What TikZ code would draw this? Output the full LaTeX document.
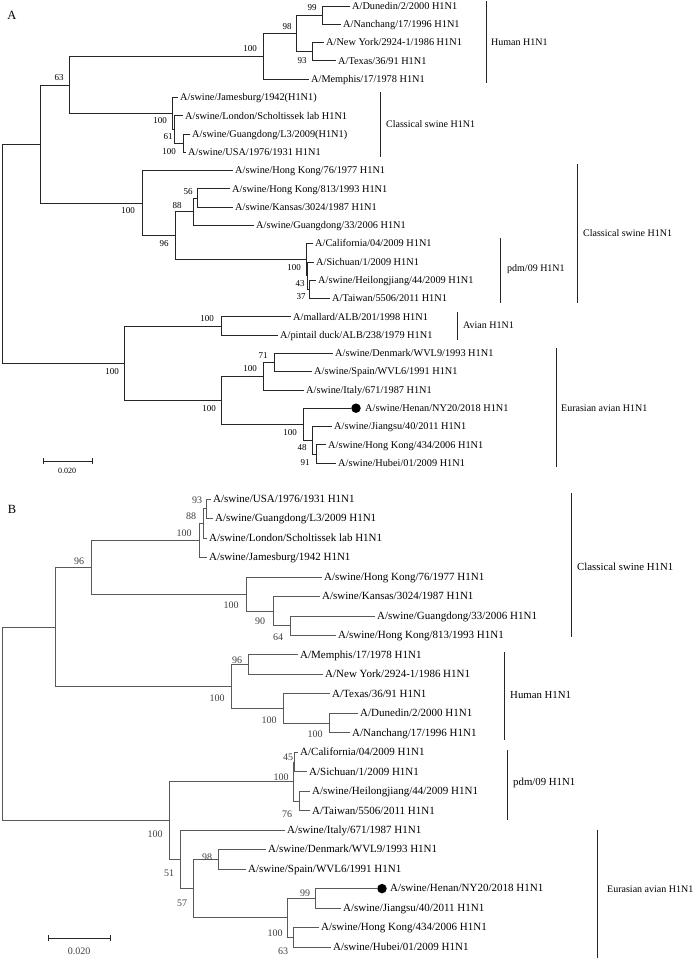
\documentclass[tikz,border=0pt]{standalone}
\usepackage{fontspec}
\setmainfont{Liberation Serif}
\begin{document}
\begin{tikzpicture}[x=1pt,y=-1pt,
  brA/.style={draw=black!85,line width=0.75pt},
  brB/.style={draw=black!65,line width=0.75pt},
  leafA/.style={anchor=west,inner xsep=2pt,inner ysep=0pt,text height=6.6pt,text depth=0pt,font=\fontsize{10.3}{12}\selectfont},
  leafB/.style={anchor=west,inner xsep=2pt,inner ysep=0pt,text height=6.6pt,text depth=0pt,font=\fontsize{11}{13}\selectfont},
  bsA/.style={inner sep=0pt,font=\fontsize{9}{10}\selectfont},
  bsB/.style={inner sep=0pt,text=black!75,font=\fontsize{10}{11}\selectfont},
  bar/.style={draw=black!85,line width=0.8pt},
  cladeA/.style={anchor=west,inner sep=0pt,font=\fontsize{10}{12}\selectfont},
  cladeB/.style={anchor=west,inner sep=0pt,font=\fontsize{10.8}{12}\selectfont},
  dotmark/.style={circle,fill=black,inner sep=0pt,minimum size=9.5pt},
  panel/.style={inner sep=0pt,font=\fontsize{12.5}{14}\selectfont},
]
\useasboundingbox (0,0) rectangle (700,958);
\fill[white] (0,0) rectangle (700,958);

% ================= PANEL A =================
\node[panel] (labA) at (12,15) {A};

% internal nodes A
\coordinate (rootA) at (2,253.5);
\coordinate (n40) at (40,144);
\coordinate (n63) at (69,84.9);
\coordinate (nHum) at (263,56.3);
\coordinate (n98) at (296,33.4);
\coordinate (n99) at (322,15.15);
\coordinate (n93) at (312,51.7);
\coordinate (cs1) at (172,113.4);
\coordinate (cs2) at (174,129.4);
\coordinate (cs3) at (183,143.1);
\coordinate (nCS) at (142,203.1);
\coordinate (n96) at (175,235.7);
\coordinate (n88) at (193,211.7);
\coordinate (n56) at (197,198);
\coordinate (pdmA) at (306,259.6);
\coordinate (pdmB) at (307,275.6);
\coordinate (pdmC) at (309,289.4);
\coordinate (n124) at (124,363);
\coordinate (nAv) at (221,325.9);
\coordinate (nEA) at (221,400.2);
\coordinate (nDSI) at (263,376.2);
\coordinate (n71) at (274,362.5);
\coordinate (nHen) at (303,424.2);
\coordinate (n48) at (312,440.2);
\coordinate (n91) at (316,453.9);

% leaves A
\node[leafA] (aDun) at (350,6.0) {A/Dunedin/2/2000 H1N1};
\node[leafA] (aNan) at (341,24.3) {A/Nanchang/17/1996 H1N1};
\node[leafA] (aNY) at (324,42.6) {A/New York/2924-1/1986 H1N1};
\node[leafA] (aTex) at (336,60.8) {A/Texas/36/91 H1N1};
\node[leafA] (aMem) at (309,79.1) {A/Memphis/17/1978 H1N1};
\node[leafA] (aJam) at (178,97.4) {A/swine/Jamesburg/1942(H1N1)};
\node[leafA] (aLon) at (183,115.7) {A/swine/London/Scholtissek lab H1N1};
\node[leafA] (aL3) at (190,134.0) {A/swine/Guangdong/L3/2009(H1N1)};
\node[leafA] (aUSA) at (186,152.2) {A/swine/USA/1976/1931 H1N1};
\node[leafA] (aHK76) at (233,170.5) {A/swine/Hong Kong/76/1977 H1N1};
\node[leafA] (aHK813) at (230,188.8) {A/swine/Hong Kong/813/1993 H1N1};
\node[leafA] (aKan) at (233,207.1) {A/swine/Kansas/3024/1987 H1N1};
\node[leafA] (aGD33) at (254,225.4) {A/swine/Guangdong/33/2006 H1N1};
\node[leafA] (aCal) at (313,243.6) {A/California/04/2009 H1N1};
\node[leafA] (aSic) at (314,261.9) {A/Sichuan/1/2009 H1N1};
\node[leafA] (aHei) at (316,280.2) {A/swine/Heilongjiang/44/2009 H1N1};
\node[leafA] (aTai) at (330,298.5) {A/Taiwan/5506/2011 H1N1};
\node[leafA] (aMal) at (291,316.8) {A/mallard/ALB/201/1998 H1N1};
\node[leafA] (aPin) at (278,335.0) {A/pintail duck/ALB/238/1979 H1N1};
\node[leafA] (aDen) at (333,353.3) {A/swine/Denmark/WVL9/1993 H1N1};
\node[leafA] (aSpa) at (312,371.6) {A/swine/Spain/WVL6/1991 H1N1};
\node[leafA] (aIta) at (304,389.9) {A/swine/Italy/671/1987 H1N1};
\node[dotmark] (aDot) at (356,408.2) {};
\node[leafA,inner xsep=0pt] (aHen) at (365,408.2) {A/swine/Henan/NY20/2018 H1N1};
\node[leafA] (aJia) at (332,426.4) {A/swine/Jiangsu/40/2011 H1N1};
\node[leafA] (aHK434) at (326,444.7) {A/swine/Hong Kong/434/2006 H1N1};
\node[leafA] (aHub) at (336,463.0) {A/swine/Hubei/01/2009 H1N1};

% branches A
\draw[brA] (rootA) |- (n40);
\draw[brA] (rootA) |- (n124);
\draw[brA] (n40) |- (n63);
\draw[brA] (n40) |- (nCS);
\draw[brA] (n63) |- (nHum);
\draw[brA] (n63) |- (cs1);
\draw[brA] (nHum) |- (n98);
\draw[brA] (nHum) |- (aMem.west);
\draw[brA] (n98) |- (n99);
\draw[brA] (n98) |- (n93);
\draw[brA] (n99) |- (aDun.west);
\draw[brA] (n99) |- (aNan.west);
\draw[brA] (n93) |- (aNY.west);
\draw[brA] (n93) |- (aTex.west);
\draw[brA] (cs1) |- (aJam.west);
\draw[brA] (cs1) |- (cs2);
\draw[brA] (cs2) |- (aLon.west);
\draw[brA] (cs2) |- (cs3);
\draw[brA] (cs3) |- (aL3.west);
\draw[brA] (cs3) |- (aUSA.west);
\draw[brA] (nCS) |- (aHK76.west);
\draw[brA] (nCS) |- (n96);
\draw[brA] (n96) |- (n88);
\draw[brA] (n96) |- (pdmA);
\draw[brA] (n88) |- (n56);
\draw[brA] (n88) |- (aGD33.west);
\draw[brA] (n56) |- (aHK813.west);
\draw[brA] (n56) |- (aKan.west);
\draw[brA] (pdmA) |- (aCal.west);
\draw[brA] (pdmA) |- (pdmB);
\draw[brA] (pdmB) |- (aSic.west);
\draw[brA] (pdmB) |- (pdmC);
\draw[brA] (pdmC) |- (aHei.west);
\draw[brA] (pdmC) |- (aTai.west);
\draw[brA] (n124) |- (nAv);
\draw[brA] (n124) |- (nEA);
\draw[brA] (nAv) |- (aMal.west);
\draw[brA] (nAv) |- (aPin.west);
\draw[brA] (nEA) |- (nDSI);
\draw[brA] (nEA) |- (nHen);
\draw[brA] (nDSI) |- (n71);
\draw[brA] (nDSI) |- (aIta.west);
\draw[brA] (n71) |- (aDen.west);
\draw[brA] (n71) |- (aSpa.west);
\draw[brA] (nHen) |- (aDot.west);
\draw[brA] (nHen) |- (n48);
\draw[brA] (n48) |- (aJia.west);
\draw[brA] (n48) |- (n91);
\draw[brA] (n91) |- (aHK434.west);
\draw[brA] (n91) |- (aHub.west);

% bootstrap A
\node[bsA] (bA1) at (312,8) {99};
\node[bsA] (bA2) at (287,27) {98};
\node[bsA] (bA3) at (250,49) {100};
\node[bsA] (bA4) at (302,60.5) {93};
\node[bsA] (bA5) at (59,78) {63};
\node[bsA] (bA6) at (160,121) {100};
\node[bsA] (bA7) at (168,137) {61};
\node[bsA] (bA8) at (169,152) {100};
\node[bsA] (bA9) at (188,192) {56};
\node[bsA] (bA10) at (177,206) {88};
\node[bsA] (bA11) at (128,211) {100};
\node[bsA] (bA12) at (164,244) {96};
\node[bsA] (bA13) at (294,268) {100};
\node[bsA] (bA14) at (300,284) {43};
\node[bsA] (bA15) at (301,297) {37};
\node[bsA] (bA16) at (207,319) {100};
\node[bsA] (bA17) at (112,372) {100};
\node[bsA] (bA18) at (263,356) {71};
\node[bsA] (bA19) at (250,369) {100};
\node[bsA] (bA20) at (209,409) {100};
\node[bsA] (bA21) at (290,433) {100};
\node[bsA] (bA22) at (302,448) {48};
\node[bsA] (bA23) at (305,463) {91};

% clade bars A
\draw[bar] (486,1) -- (486,83);
\node[cladeA] (cA1) at (491,42) {Human H1N1};
\draw[bar] (380,92) -- (380,157);
\node[cladeA] (cA2) at (386,124) {Classical swine H1N1};
\draw[bar] (577,164) -- (577,303);
\node[cladeA] (cA3) at (583,233) {Classical swine H1N1};
\draw[bar] (500,238) -- (500,303);
\node[cladeA] (cA4) at (507,269) {pdm/09 H1N1};
\draw[bar] (457,312) -- (457,340);
\node[cladeA] (cA5) at (463,325) {Avian H1N1};
\draw[bar] (556,348) -- (556,467);
\node[cladeA] (cA6) at (561,408) {Eurasian avian H1N1};

% scale bar A
\coordinate (sA1) at (43,461);
\coordinate (sA2) at (92,461);
\draw[brA] (sA1) -- (sA2);
\draw[brA] ([yshift=-3pt]sA1) -- ([yshift=3pt]sA1);
\draw[brA] ([yshift=-3pt]sA2) -- ([yshift=3pt]sA2);
\node[bsA,font=\fontsize{8}{9}\selectfont] (sAl) at (67,471) {0.020};

% ================= PANEL B =================
\node[panel] (labB) at (12,509) {B};

\coordinate (rootB) at (2,723.7);
\coordinate (m96) at (55,626.9);
\coordinate (mCS) at (91,567.2);
\coordinate (c1) at (199,540.4);
\coordinate (c2) at (203,523.4);
\coordinate (c3) at (206,508.75);
\coordinate (mK) at (246,594);
\coordinate (m90) at (273,611);
\coordinate (m64) at (290,625.7);
\coordinate (mHum) at (231,686.5);
\coordinate (m96h) at (248,664.6);
\coordinate (mTDN) at (283,708.4);
\coordinate (mDN) at (329,723);
\coordinate (m100) at (169,820.5);
\coordinate (p1) at (293,781.5);
\coordinate (p2) at (294,762);
\coordinate (p3) at (299,801);
\coordinate (m51) at (180,859.4);
\coordinate (m57) at (193,888.6);
\coordinate (mDS) at (218,859.4);
\coordinate (mE) at (287,917.8);
\coordinate (mHJ) at (315,898.4);
\coordinate (mHH) at (293,937.3);

\node[leafB] (bUSA) at (211,499.0) {A/swine/USA/1976/1931 H1N1};
\node[leafB] (bL3) at (213,518.5) {A/swine/Guangdong/L3/2009 H1N1};
\node[leafB] (bLon) at (207,538.0) {A/swine/London/Scholtissek lab H1N1};
\node[leafB] (bJam) at (207,557.4) {A/swine/Jamesburg/1942 H1N1};
\node[leafB] (bHK76) at (322,576.9) {A/swine/Hong Kong/76/1977 H1N1};
\node[leafB] (bKan) at (320,596.4) {A/swine/Kansas/3024/1987 H1N1};
\node[leafB] (bGD33) at (375,615.9) {A/swine/Guangdong/33/2006 H1N1};
\node[leafB] (bHK813) at (336,635.4) {A/swine/Hong Kong/813/1993 H1N1};
\node[leafB] (bMem) at (298,654.8) {A/Memphis/17/1978 H1N1};
\node[leafB] (bNY) at (323,674.3) {A/New York/2924-1/1986 H1N1};
\node[leafB] (bTex) at (330,693.8) {A/Texas/36/91 H1N1};
\node[leafB] (bDun) at (358,713.3) {A/Dunedin/2/2000 H1N1};
\node[leafB] (bNan) at (350,732.8) {A/Nanchang/17/1996 H1N1};
\node[leafB] (bCal) at (298,752.2) {A/California/04/2009 H1N1};
\node[leafB] (bSic) at (307,771.7) {A/Sichuan/1/2009 H1N1};
\node[leafB] (bHei) at (310,791.2) {A/swine/Heilongjiang/44/2009 H1N1};
\node[leafB] (bTai) at (310,810.7) {A/Taiwan/5506/2011 H1N1};
\node[leafB] (bIta) at (285,830.2) {A/swine/Italy/671/1987 H1N1};
\node[leafB] (bDen) at (266,849.6) {A/swine/Denmark/WVL9/1993 H1N1};
\node[leafB] (bSpa) at (246,869.1) {A/swine/Spain/WVL6/1991 H1N1};
\node[dotmark] (bDot) at (382,888.6) {};
\node[leafB,inner xsep=0pt] (bHen) at (390,888.6) {A/swine/Henan/NY20/2018 H1N1};
\node[leafB] (bJia) at (341,908.1) {A/swine/Jiangsu/40/2011 H1N1};
\node[leafB] (bHK434) at (319,927.6) {A/swine/Hong Kong/434/2006 H1N1};
\node[leafB] (bHub) at (331,947.0) {A/swine/Hubei/01/2009 H1N1};

\draw[brB] (rootB) |- (m96);
\draw[brB] (rootB) |- (m100);
\draw[brB] (m96) |- (mCS);
\draw[brB] (m96) |- (mHum);
\draw[brB] (mCS) |- (c1);
\draw[brB] (mCS) |- (mK);
\draw[brB] (c1) |- (c2);
\draw[brB] (c1) |- (bJam.west);
\draw[brB] (c2) |- (c3);
\draw[brB] (c2) |- (bLon.west);
\draw[brB] (c3) |- (bUSA.west);
\draw[brB] (c3) |- (bL3.west);
\draw[brB] (mK) |- (bHK76.west);
\draw[brB] (mK) |- (m90);
\draw[brB] (m90) |- (bKan.west);
\draw[brB] (m90) |- (m64);
\draw[brB] (m64) |- (bGD33.west);
\draw[brB] (m64) |- (bHK813.west);
\draw[brB] (mHum) |- (m96h);
\draw[brB] (mHum) |- (mTDN);
\draw[brB] (m96h) |- (bMem.west);
\draw[brB] (m96h) |- (bNY.west);
\draw[brB] (mTDN) |- (bTex.west);
\draw[brB] (mTDN) |- (mDN);
\draw[brB] (mDN) |- (bDun.west);
\draw[brB] (mDN) |- (bNan.west);
\draw[brB] (m100) |- (p1);
\draw[brB] (m100) |- (m51);
\draw[brB] (p1) |- (p2);
\draw[brB] (p1) |- (p3);
\draw[brB] (p2) |- (bCal.west);
\draw[brB] (p2) |- (bSic.west);
\draw[brB] (p3) |- (bHei.west);
\draw[brB] (p3) |- (bTai.west);
\draw[brB] (m51) |- (bIta.west);
\draw[brB] (m51) |- (m57);
\draw[brB] (m57) |- (mDS);
\draw[brB] (m57) |- (mE);
\draw[brB] (mDS) |- (bDen.west);
\draw[brB] (mDS) |- (bSpa.west);
\draw[brB] (mE) |- (mHJ);
\draw[brB] (mE) |- (mHH);
\draw[brB] (mHJ) |- (bDot.west);
\draw[brB] (mHJ) |- (bJia.west);
\draw[brB] (mHH) |- (bHK434.west);
\draw[brB] (mHH) |- (bHub.west);

\node[bsB] (bB1) at (197,500) {93};
\node[bsB] (bB2) at (191,516) {88};
\node[bsB] (bB3) at (184,533) {100};
\node[bsB] (bB4) at (79,561) {96};
\node[bsB] (bB5) at (231,605) {100};
\node[bsB] (bB6) at (260,621) {90};
\node[bsB] (bB7) at (278,637) {64};
\node[bsB] (bB8) at (237,660) {96};
\node[bsB] (bB9) at (217,698) {100};
\node[bsB] (bB10) at (269,720) {100};
\node[bsB] (bB11) at (315,734) {100};
\node[bsB] (bB12) at (288,757) {45};
\node[bsB] (bB13) at (281,777) {100};
\node[bsB] (bB14) at (287,814) {76};
\node[bsB] (bB15) at (155,834) {100};
\node[bsB] (bB16) at (169,873) {51};
\node[bsB] (bB17) at (207,857) {98};
\node[bsB] (bB18) at (182,903) {57};
\node[bsB] (bB19) at (305,893) {99};
\node[bsB] (bB20) at (275,933) {100};
\node[bsB] (bB21) at (283,951) {63};

\draw[bar] (571,493) -- (571,637);
\node[cladeB] (cB1) at (577,567) {Classical swine H1N1};
\draw[bar] (504,652) -- (504,740);
\node[cladeB] (cB2) at (510,695) {Human H1N1};
\draw[bar] (507,750) -- (507,820);
\node[cladeB] (cB3) at (513,783) {pdm/09 H1N1};
\draw[bar] (597,830) -- (597,958);
\node[cladeB,font=\fontsize{10}{12}\selectfont] (cB4) at (607,889) {Eurasian avian H1N1};

\coordinate (sB1) at (48,938);
\coordinate (sB2) at (110,938);
\draw[brB,draw=black!85] (sB1) -- (sB2);
\draw[brB,draw=black!85] ([yshift=-3pt]sB1) -- ([yshift=3pt]sB1);
\draw[brB,draw=black!85] ([yshift=-3pt]sB2) -- ([yshift=3pt]sB2);
\node[bsB] (sBl) at (79,951) {0.020};
\end{tikzpicture}
\end{document}
